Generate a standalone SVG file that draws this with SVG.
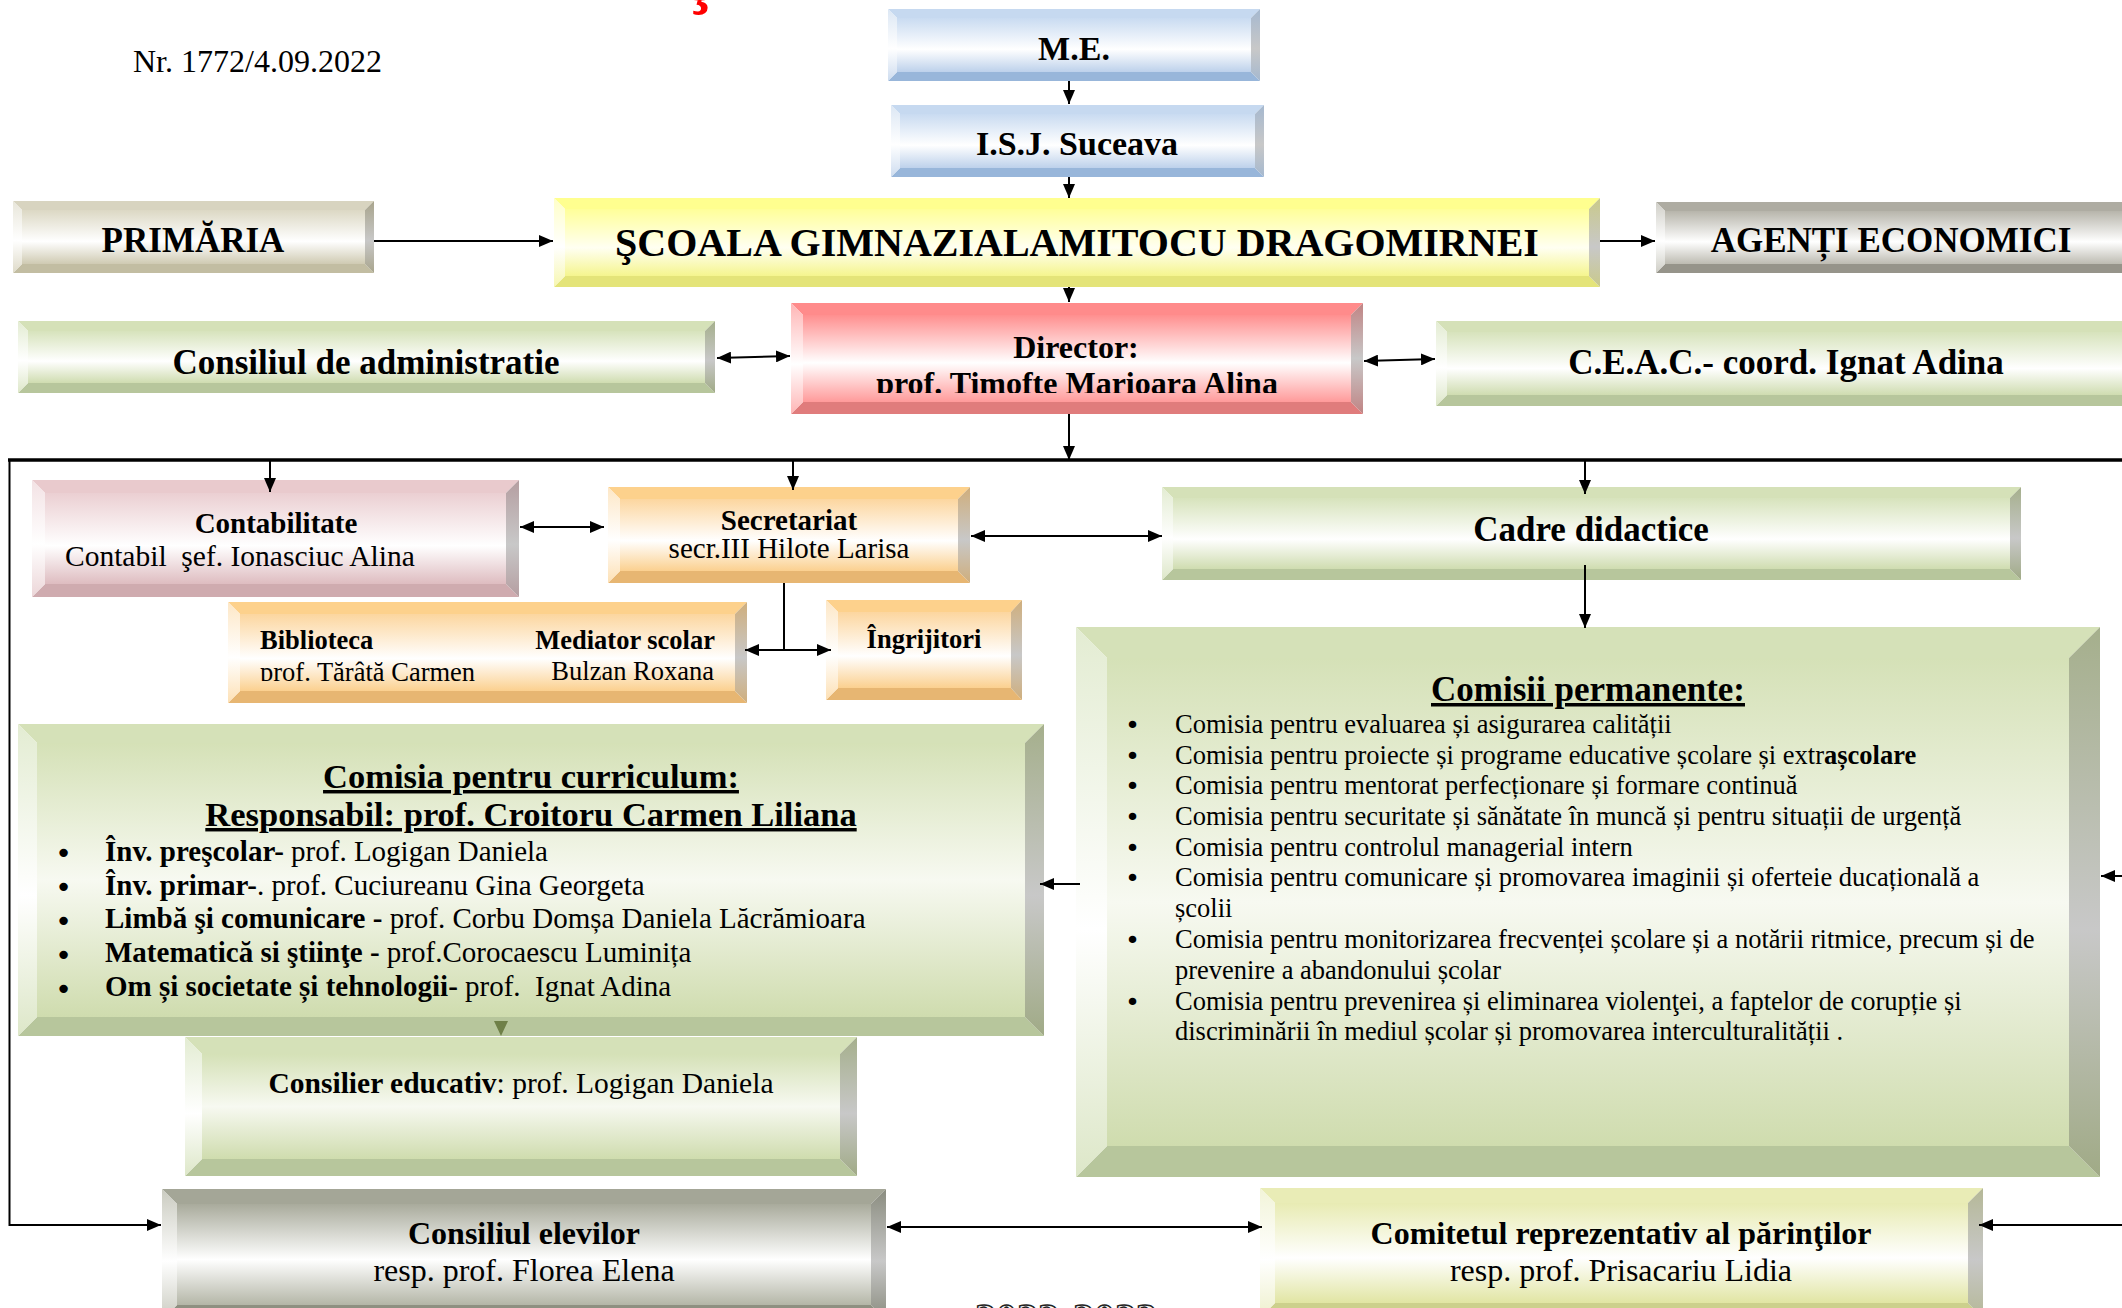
<svg xmlns="http://www.w3.org/2000/svg" width="2122" height="1308" viewBox="0 0 2122 1308">
<style>
.t{font-family:"Liberation Serif","Times New Roman",serif;fill:#000}
.b{font-weight:bold}
.m{text-anchor:middle}
.e{text-anchor:end}
.u{text-decoration:underline}
.ln{stroke:#000;stroke-width:2;fill:none}
.thick{stroke-width:3.5}
.bul{font-family:"DejaVu Sans",sans-serif;fill:#000}
.bl1{font-size:29px}
.bl2{font-size:25.5px}
</style>
<defs>
<marker id="ah" viewBox="0 0 14 12" refX="14" refY="6" markerWidth="14" markerHeight="12" markerUnits="userSpaceOnUse" orient="auto-start-reverse"><path d="M0,0 L14,6 L0,12 z" fill="#000"/></marker>
<linearGradient id="f-blue" x1="0" y1="0" x2="0" y2="1"><stop offset="0" stop-color="#c9dbf1"/><stop offset="0.58" stop-color="#fff"/><stop offset="1" stop-color="#bdd1eb"/></linearGradient>
<linearGradient id="l-blue" x1="0" y1="0" x2="0" y2="1"><stop offset="0" stop-color="#dce7f4"/><stop offset="0.55" stop-color="#fff"/><stop offset="1" stop-color="#cddcef"/></linearGradient>
<linearGradient id="r-blue" x1="0" y1="0" x2="0" y2="1"><stop offset="0" stop-color="#a5b8cf"/><stop offset="0.55" stop-color="#c8c8c8"/><stop offset="1" stop-color="#a5b8cf"/></linearGradient>
<linearGradient id="f-khaki" x1="0" y1="0" x2="0" y2="1"><stop offset="0" stop-color="#dcd8c4"/><stop offset="0.58" stop-color="#fff"/><stop offset="1" stop-color="#cfcab2"/></linearGradient>
<linearGradient id="l-khaki" x1="0" y1="0" x2="0" y2="1"><stop offset="0" stop-color="#e8e6da"/><stop offset="0.55" stop-color="#fff"/><stop offset="1" stop-color="#dedac8"/></linearGradient>
<linearGradient id="r-khaki" x1="0" y1="0" x2="0" y2="1"><stop offset="0" stop-color="#a8a48c"/><stop offset="0.55" stop-color="#c8c8c8"/><stop offset="1" stop-color="#a8a48c"/></linearGradient>
<linearGradient id="f-yellow" x1="0" y1="0" x2="0" y2="1"><stop offset="0" stop-color="#ffff99"/><stop offset="0.58" stop-color="#fffff2"/><stop offset="1" stop-color="#f5f58e"/></linearGradient>
<linearGradient id="l-yellow" x1="0" y1="0" x2="0" y2="1"><stop offset="0" stop-color="#ffffc8"/><stop offset="0.55" stop-color="#fff"/><stop offset="1" stop-color="#f7f7b0"/></linearGradient>
<linearGradient id="r-yellow" x1="0" y1="0" x2="0" y2="1"><stop offset="0" stop-color="#c9c98a"/><stop offset="0.55" stop-color="#c8c8c8"/><stop offset="1" stop-color="#c9c98a"/></linearGradient>
<linearGradient id="f-grey" x1="0" y1="0" x2="0" y2="1"><stop offset="0" stop-color="#b7b5ab"/><stop offset="0.58" stop-color="#fff"/><stop offset="1" stop-color="#bdbbb1"/></linearGradient>
<linearGradient id="l-grey" x1="0" y1="0" x2="0" y2="1"><stop offset="0" stop-color="#d0cfc8"/><stop offset="0.55" stop-color="#fff"/><stop offset="1" stop-color="#cfcec6"/></linearGradient>
<linearGradient id="r-grey" x1="0" y1="0" x2="0" y2="1"><stop offset="0" stop-color="#8c8a80"/><stop offset="0.55" stop-color="#c8c8c8"/><stop offset="1" stop-color="#8c8a80"/></linearGradient>
<linearGradient id="f-green" x1="0" y1="0" x2="0" y2="1"><stop offset="0" stop-color="#d7e3bc"/><stop offset="0.58" stop-color="#fff"/><stop offset="1" stop-color="#cfdcb0"/></linearGradient>
<linearGradient id="f-green2" x1="0" y1="0" x2="0" y2="1"><stop offset="0" stop-color="#d5e1b7"/><stop offset="0.5" stop-color="#f7f9f1"/><stop offset="1" stop-color="#cfdcae"/></linearGradient>
<linearGradient id="l-green" x1="0" y1="0" x2="0" y2="1"><stop offset="0" stop-color="#e3ecd2"/><stop offset="0.55" stop-color="#fff"/><stop offset="1" stop-color="#dde7c8"/></linearGradient>
<linearGradient id="r-green" x1="0" y1="0" x2="0" y2="1"><stop offset="0" stop-color="#a5af8c"/><stop offset="0.55" stop-color="#c8c8c8"/><stop offset="1" stop-color="#a0aa86"/></linearGradient>
<linearGradient id="f-red" x1="0" y1="0" x2="0" y2="1"><stop offset="0" stop-color="#ff8f8f"/><stop offset="0.55" stop-color="#fff"/><stop offset="1" stop-color="#ff9a9a"/></linearGradient>
<linearGradient id="l-red" x1="0" y1="0" x2="0" y2="1"><stop offset="0" stop-color="#ffb5b5"/><stop offset="0.55" stop-color="#fff"/><stop offset="1" stop-color="#ffb5b5"/></linearGradient>
<linearGradient id="r-red" x1="0" y1="0" x2="0" y2="1"><stop offset="0" stop-color="#c08484"/><stop offset="0.5" stop-color="#c8c8c8"/><stop offset="1" stop-color="#c08484"/></linearGradient>
<linearGradient id="f-pink" x1="0" y1="0" x2="0" y2="1"><stop offset="0" stop-color="#ebcfd2"/><stop offset="0.58" stop-color="#fff"/><stop offset="1" stop-color="#debcc0"/></linearGradient>
<linearGradient id="l-pink" x1="0" y1="0" x2="0" y2="1"><stop offset="0" stop-color="#f3e2e4"/><stop offset="0.55" stop-color="#fff"/><stop offset="1" stop-color="#ecd6d8"/></linearGradient>
<linearGradient id="r-pink" x1="0" y1="0" x2="0" y2="1"><stop offset="0" stop-color="#b59ea1"/><stop offset="0.55" stop-color="#c8c8c8"/><stop offset="1" stop-color="#b59ea1"/></linearGradient>
<linearGradient id="f-orange" x1="0" y1="0" x2="0" y2="1"><stop offset="0" stop-color="#fcd69f"/><stop offset="0.58" stop-color="#fff"/><stop offset="1" stop-color="#fbd08f"/></linearGradient>
<linearGradient id="l-orange" x1="0" y1="0" x2="0" y2="1"><stop offset="0" stop-color="#fde7c6"/><stop offset="0.55" stop-color="#fff"/><stop offset="1" stop-color="#fde0b4"/></linearGradient>
<linearGradient id="r-orange" x1="0" y1="0" x2="0" y2="1"><stop offset="0" stop-color="#cfae7c"/><stop offset="0.55" stop-color="#c8c8c8"/><stop offset="1" stop-color="#cfae7c"/></linearGradient>
<linearGradient id="f-gg" x1="0" y1="0" x2="0" y2="1"><stop offset="0" stop-color="#a9ab9c"/><stop offset="0.55" stop-color="#fff"/><stop offset="1" stop-color="#b4b6a7"/></linearGradient>
<linearGradient id="l-gg" x1="0" y1="0" x2="0" y2="1"><stop offset="0" stop-color="#cacbc0"/><stop offset="0.55" stop-color="#fff"/><stop offset="1" stop-color="#cacbc0"/></linearGradient>
<linearGradient id="r-gg" x1="0" y1="0" x2="0" y2="1"><stop offset="0" stop-color="#8a8c7f"/><stop offset="0.55" stop-color="#c8c8c8"/><stop offset="1" stop-color="#8a8c7f"/></linearGradient>
<linearGradient id="f-yg" x1="0" y1="0" x2="0" y2="1"><stop offset="0" stop-color="#e8ebb3"/><stop offset="0.55" stop-color="#fff"/><stop offset="1" stop-color="#e1e5a3"/></linearGradient>
<linearGradient id="l-yg" x1="0" y1="0" x2="0" y2="1"><stop offset="0" stop-color="#f2f4d8"/><stop offset="0.55" stop-color="#fff"/><stop offset="1" stop-color="#eef0cc"/></linearGradient>
<linearGradient id="r-yg" x1="0" y1="0" x2="0" y2="1"><stop offset="0" stop-color="#b5b897"/><stop offset="0.55" stop-color="#c8c8c8"/><stop offset="1" stop-color="#b5b897"/></linearGradient>
<clipPath id="clipDir"><rect x="791" y="303" width="572" height="90"/></clipPath>
<clipPath id="clipBib"><rect x="228" y="602" width="519" height="79"/></clipPath>
</defs>

<rect x="0" y="0" width="2122" height="1308" fill="#fff"/>

<text class="t b" x="681" y="0" font-size="70" style="fill:#ff0000">Ş</text>

<text class="t" x="133" y="72" font-size="32">Nr. 1772/4.09.2022</text>

<g id="me">
<polygon points="888,9 1260,9 1251,18 897,18" fill="#c6d9f0"/>
<polygon points="888,81 1260,81 1251,72 897,72" fill="#98b6da"/>
<polygon points="888,9 897,18 897,72 888,81" fill="url(#l-blue)"/>
<polygon points="1260,9 1251,18 1251,72 1260,81" fill="url(#r-blue)"/>
<rect x="897" y="18" width="354" height="54" fill="url(#f-blue)"/>
<text class="t b m" x="1074" y="60" font-size="34">M.E.</text>
</g>

<g id="isj">
<polygon points="891,105 1264,105 1255,114 900,114" fill="#c6d9f0"/>
<polygon points="891,177 1264,177 1255,168 900,168" fill="#98b6da"/>
<polygon points="891,105 900,114 900,168 891,177" fill="url(#l-blue)"/>
<polygon points="1264,105 1255,114 1255,168 1264,177" fill="url(#r-blue)"/>
<rect x="900" y="114" width="355" height="54" fill="url(#f-blue)"/>
<text class="t b m" x="1077" y="155" font-size="34">I.S.J. Suceava</text>
</g>

<g id="primaria">
<polygon points="13,201 374,201 365,210 22,210" fill="#d8d4c0"/>
<polygon points="13,273 374,273 365,264 22,264" fill="#c2bda2"/>
<polygon points="13,201 22,210 22,264 13,273" fill="url(#l-khaki)"/>
<polygon points="374,201 365,210 365,264 374,273" fill="url(#r-khaki)"/>
<rect x="22" y="210" width="343" height="54" fill="url(#f-khaki)"/>
<text class="t b m" x="193" y="252" font-size="35">PRIMĂRIA</text>
</g>

<g id="scoala">
<polygon points="554,198 1600,198 1589,209 565,209" fill="#ffff8f"/>
<polygon points="554,287 1600,287 1589,276 565,276" fill="#e4e479"/>
<polygon points="554,198 565,209 565,276 554,287" fill="url(#l-yellow)"/>
<polygon points="1600,198 1589,209 1589,276 1600,287" fill="url(#r-yellow)"/>
<rect x="565" y="209" width="1024" height="67" fill="url(#f-yellow)"/>
<text class="t b m" x="1077" y="256" font-size="40">ŞCOALA GIMNAZIALAMITOCU DRAGOMIRNEI</text>
</g>

<g id="agenti">
<polygon points="1656,202 2136,202 2127,211 1665,211" fill="#aeaca2"/>
<polygon points="1656,273 2136,273 2127,264 1665,264" fill="#96948a"/>
<polygon points="1656,202 1665,211 1665,264 1656,273" fill="url(#l-grey)"/>
<polygon points="2136,202 2127,211 2127,264 2136,273" fill="url(#r-grey)"/>
<rect x="1665" y="211" width="462" height="53" fill="url(#f-grey)"/>
<text class="t b m" x="1891" y="252" font-size="35">AGENȚI ECONOMICI</text>
</g>

<g id="consiliul-admin">
<polygon points="18,321 715,321 705,331 28,331" fill="#d5e1b8"/>
<polygon points="18,393 715,393 705,383 28,383" fill="#b7c69c"/>
<polygon points="18,321 28,331 28,383 18,393" fill="url(#l-green)"/>
<polygon points="715,321 705,331 705,383 715,393" fill="url(#r-green)"/>
<rect x="28" y="331" width="677" height="52" fill="url(#f-green)"/>
<text class="t b m" x="366" y="374" font-size="35">Consiliul de administratie</text>
</g>

<g id="director">
<polygon points="791,303 1363,303 1351,315 803,315" fill="#ff8b8b"/>
<polygon points="791,414 1363,414 1351,402 803,402" fill="#e07c7c"/>
<polygon points="791,303 803,315 803,402 791,414" fill="url(#l-red)"/>
<polygon points="1363,303 1351,315 1351,402 1363,414" fill="url(#r-red)"/>
<rect x="803" y="315" width="548" height="87" fill="url(#f-red)"/>
<text class="t b m" x="1076" y="358" font-size="32">Director:</text>
<text class="t b m" x="1077" y="394" font-size="32" clip-path="url(#clipDir)">prof. Timofte Marioara Alina</text>
</g>

<g id="ceac">
<polygon points="1436,321 2136,321 2125,332 1447,332" fill="#d5e1b8"/>
<polygon points="1436,406 2136,406 2125,395 1447,395" fill="#b7c69c"/>
<polygon points="1436,321 1447,332 1447,395 1436,406" fill="url(#l-green)"/>
<polygon points="2136,321 2125,332 2125,395 2136,406" fill="url(#r-green)"/>
<rect x="1447" y="332" width="678" height="63" fill="url(#f-green)"/>
<text class="t b m" x="1786" y="374" font-size="35">C.E.A.C.- coord. Ignat Adina</text>
</g>

<g id="contabilitate">
<polygon points="32,480 519,480 506,493 45,493" fill="#e9cacd"/>
<polygon points="32,597 519,597 506,584 45,584" fill="#cfabaf"/>
<polygon points="32,480 45,493 45,584 32,597" fill="url(#l-pink)"/>
<polygon points="519,480 506,493 506,584 519,597" fill="url(#r-pink)"/>
<rect x="45" y="493" width="461" height="91" fill="url(#f-pink)"/>
<text class="t b m" x="276" y="533" font-size="29">Contabilitate</text>
<text class="t" x="65" y="566" font-size="29.5" xml:space="preserve">Contabil  şef. Ionasciuc Alina</text>
</g>

<g id="secretariat">
<polygon points="608,487 970,487 958,499 620,499" fill="#fdd18c"/>
<polygon points="608,583 970,583 958,571 620,571" fill="#e7b672"/>
<polygon points="608,487 620,499 620,571 608,583" fill="url(#l-orange)"/>
<polygon points="970,487 958,499 958,571 970,583" fill="url(#r-orange)"/>
<rect x="620" y="499" width="338" height="72" fill="url(#f-orange)"/>
<text class="t b m" x="789" y="530" font-size="29">Secretariat</text>
<text class="t m" x="789" y="558" font-size="29">secr.III Hilote Larisa</text>
</g>

<g id="cadre">
<polygon points="1162,487 2021,487 2010,498 1173,498" fill="#d5e1b8"/>
<polygon points="1162,580 2021,580 2010,569 1173,569" fill="#b7c69c"/>
<polygon points="1162,487 1173,498 1173,569 1162,580" fill="url(#l-green)"/>
<polygon points="2021,487 2010,498 2010,569 2021,580" fill="url(#r-green)"/>
<rect x="1173" y="498" width="837" height="71" fill="url(#f-green)"/>
<text class="t b m" x="1591" y="541" font-size="35">Cadre didactice</text>
</g>

<g id="biblioteca">
<polygon points="228,602 747,602 735,614 240,614" fill="#fdd18c"/>
<polygon points="228,703 747,703 735,691 240,691" fill="#e7b672"/>
<polygon points="228,602 240,614 240,691 228,703" fill="url(#l-orange)"/>
<polygon points="747,602 735,614 735,691 747,703" fill="url(#r-orange)"/>
<rect x="240" y="614" width="495" height="77" fill="url(#f-orange)"/>
<text class="t b" x="260" y="649" font-size="26.5">Biblioteca</text>
<text class="t" x="260" y="681" font-size="26.5" clip-path="url(#clipBib)">prof. Tărâtă Carmen</text>
<text class="t b e" x="715" y="649" font-size="26.5">Mediator scolar</text>
<text class="t e" x="714" y="680" font-size="26.5">Bulzan Roxana</text>
</g>

<g id="ingrijitori">
<polygon points="826,600 1022,600 1011,612 838,612" fill="#fdd18c"/>
<polygon points="826,700 1022,700 1011,688 838,688" fill="#e7b672"/>
<polygon points="826,600 838,612 838,688 826,700" fill="url(#l-orange)"/>
<polygon points="1022,600 1011,612 1011,688 1022,700" fill="url(#r-orange)"/>
<rect x="838" y="612" width="173" height="76" fill="url(#f-orange)"/>
<text class="t b m" x="924" y="648" font-size="26.5">Îngrijitori</text>
</g>

<g id="curriculum">
<polygon points="18,724 1044,724 1025,743 37,743" fill="#d5e1b8"/>
<polygon points="18,1036 1044,1036 1025,1017 37,1017" fill="#b7c69c"/>
<polygon points="18,724 37,743 37,1017 18,1036" fill="url(#l-green)"/>
<polygon points="1044,724 1025,743 1025,1017 1044,1036" fill="url(#r-green)"/>
<rect x="37" y="743" width="988" height="274" fill="url(#f-green2)"/>
<text class="t b m u" x="531" y="788" font-size="34.5">Comisia pentru curriculum:</text>
<text class="t b m u" x="531" y="826" font-size="34.5">Responsabil: prof. Croitoru Carmen Liliana</text>
<g font-size="29">
<text class="bul bl1" x="55" y="863">•</text>
<text class="t" x="105" y="861"><tspan class="b">Înv. preşcolar-</tspan> prof. Logigan Daniela</text>
<text class="bul bl1" x="55" y="897">•</text>
<text class="t" x="105" y="895"><tspan class="b">Înv. primar-</tspan>. prof. Cuciureanu Gina Georgeta</text>
<text class="bul bl1" x="55" y="931">•</text>
<text class="t" x="105" y="928"><tspan class="b">Limbă şi comunicare -</tspan> prof. Corbu Domșa Daniela Lăcrămioara</text>
<text class="bul bl1" x="55" y="965">•</text>
<text class="t" x="105" y="962"><tspan class="b">Matematică si ştiinţe -</tspan> prof.Corocaescu Luminița</text>
<text class="bul bl1" x="55" y="999">•</text>
<text class="t" x="105" y="996" xml:space="preserve"><tspan class="b">Om și societate și tehnologii-</tspan> prof.  Ignat Adina</text>
</g>
</g>

<g id="comisii-permanente">
<polygon points="1076,627 2100,627 2069,658 1107,658" fill="#d5e1b8"/>
<polygon points="1076,1177 2100,1177 2069,1146 1107,1146" fill="#b7c69c"/>
<polygon points="1076,627 1107,658 1107,1146 1076,1177" fill="url(#l-green)"/>
<polygon points="2100,627 2069,658 2069,1146 2100,1177" fill="url(#r-green)"/>
<rect x="1107" y="658" width="962" height="488" fill="url(#f-green2)"/>
<text class="t b m u" x="1588" y="701" font-size="35">Comisii permanente:</text>
<g font-size="26.5">
<text class="bul bl2" x="1125" y="734">•</text>
<text class="t" x="1175" y="733">Comisia pentru evaluarea și asigurarea calității</text>
<text class="bul bl2" x="1125" y="765">•</text>
<text class="t" x="1175" y="764">Comisia pentru proiecte și programe educative școlare și extr<tspan class="b">așcolare</tspan></text>
<text class="bul bl2" x="1125" y="795">•</text>
<text class="t" x="1175" y="794">Comisia pentru mentorat perfecționare și formare continuă</text>
<text class="bul bl2" x="1125" y="826">•</text>
<text class="t" x="1175" y="825">Comisia pentru securitate și sănătate în muncă și pentru situații de urgență</text>
<text class="bul bl2" x="1125" y="857">•</text>
<text class="t" x="1175" y="856">Comisia pentru controlul managerial intern</text>
<text class="bul bl2" x="1125" y="887">•</text>
<text class="t" x="1175" y="886">Comisia pentru comunicare și promovarea imaginii și oferteie ducațională a</text>
<text class="t" x="1175" y="917">școlii</text>
<text class="bul bl2" x="1125" y="949">•</text>
<text class="t" x="1175" y="948">Comisia pentru monitorizarea frecvenței școlare și a notării ritmice, precum și de</text>
<text class="t" x="1175" y="979">prevenire a abandonului școlar</text>
<text class="bul bl2" x="1125" y="1011">•</text>
<text class="t" x="1175" y="1010">Comisia pentru prevenirea și eliminarea violenţei, a faptelor de corupție și</text>
<text class="t" x="1175" y="1040">discriminării în mediul școlar și promovarea interculturalității .</text>
</g>
</g>

<g id="consilier">
<polygon points="185,1037 857,1037 840,1054 202,1054" fill="#d5e1b8"/>
<polygon points="185,1176 857,1176 840,1159 202,1159" fill="#b7c69c"/>
<polygon points="185,1037 202,1054 202,1159 185,1176" fill="url(#l-green)"/>
<polygon points="857,1037 840,1054 840,1159 857,1176" fill="url(#r-green)"/>
<rect x="202" y="1054" width="638" height="105" fill="url(#f-green2)"/>
<text class="t m" x="521" y="1093" font-size="29.5"><tspan class="b">Consilier educativ</tspan>: prof. Logigan Daniela</text>
</g>

<g id="consiliul-elevilor">
<polygon points="162,1189 886,1189 871,1204 177,1204" fill="#a4a697"/>
<polygon points="162,1320 886,1320 871,1305 177,1305" fill="#8e9081"/>
<polygon points="162,1189 177,1204 177,1305 162,1320" fill="url(#l-gg)"/>
<polygon points="886,1189 871,1204 871,1305 886,1320" fill="url(#r-gg)"/>
<rect x="177" y="1204" width="694" height="101" fill="url(#f-gg)"/>
<text class="t b m" x="524" y="1244" font-size="32">Consiliul elevilor</text>
<text class="t m" x="524" y="1281" font-size="32">resp. prof. Florea Elena</text>
</g>

<g id="comitetul">
<polygon points="1260,1188 1983,1188 1968,1203 1275,1203" fill="#e9ecb6"/>
<polygon points="1260,1318 1983,1318 1968,1303 1275,1303" fill="#ccd08c"/>
<polygon points="1260,1188 1275,1203 1275,1303 1260,1318" fill="url(#l-yg)"/>
<polygon points="1983,1188 1968,1203 1968,1303 1983,1318" fill="url(#r-yg)"/>
<rect x="1275" y="1203" width="693" height="100" fill="url(#f-yg)"/>
<text class="t b m" x="1621" y="1244" font-size="32">Comitetul reprezentativ al părinţilor</text>
<text class="t m" x="1621" y="1281" font-size="32">resp. prof. Prisacariu Lidia</text>
</g>

<text class="t b" x="975" y="1333" font-size="42" style="fill:#fff;stroke:#222;stroke-width:1.5">2022-2023</text>

<g id="connectors">
<line class="ln" x1="1069" y1="81" x2="1069" y2="104" marker-end="url(#ah)"/>
<line class="ln" x1="1069" y1="177" x2="1069" y2="198" marker-end="url(#ah)"/>
<line class="ln" x1="374" y1="241" x2="553" y2="241" marker-end="url(#ah)"/>
<line class="ln" x1="1600" y1="241" x2="1655" y2="241" marker-end="url(#ah)"/>
<line class="ln" x1="1069" y1="287" x2="1069" y2="302" marker-end="url(#ah)"/>
<line class="ln" x1="717" y1="358" x2="790" y2="356" marker-start="url(#ah)" marker-end="url(#ah)"/>
<line class="ln" x1="1364" y1="361" x2="1435" y2="359" marker-start="url(#ah)" marker-end="url(#ah)"/>
<line class="ln" x1="1069" y1="414" x2="1069" y2="460" marker-end="url(#ah)"/>
<line class="ln thick" x1="8" y1="460" x2="2122" y2="460"/>
<polyline class="ln" points="9.5,460 9.5,1225 161,1225" marker-end="url(#ah)"/>
<line class="ln" x1="270" y1="460" x2="270" y2="492" marker-end="url(#ah)"/>
<line class="ln" x1="793" y1="460" x2="793" y2="490" marker-end="url(#ah)"/>
<line class="ln" x1="1585" y1="460" x2="1585" y2="494" marker-end="url(#ah)"/>
<line class="ln" x1="520" y1="527" x2="604" y2="527" marker-start="url(#ah)" marker-end="url(#ah)"/>
<line class="ln" x1="971" y1="536" x2="1162" y2="536" marker-start="url(#ah)" marker-end="url(#ah)"/>
<line class="ln" x1="784" y1="583" x2="784" y2="650"/>
<line class="ln" x1="745" y1="650" x2="831" y2="650" marker-start="url(#ah)" marker-end="url(#ah)"/>
<line class="ln" x1="1585" y1="565" x2="1585" y2="628" marker-end="url(#ah)"/>
<line class="ln" x1="1080" y1="884" x2="1040" y2="884" marker-end="url(#ah)"/>
<line class="ln" x1="2122" y1="876" x2="2101" y2="876" marker-end="url(#ah)"/>
<polygon points="494,1021 508,1021 501,1036" fill="#6f8048"/>
<line class="ln" x1="887" y1="1227" x2="1262" y2="1227" marker-start="url(#ah)" marker-end="url(#ah)"/>
<line class="ln" x1="2122" y1="1225" x2="1979" y2="1225" marker-end="url(#ah)"/>
</g>
</svg>
